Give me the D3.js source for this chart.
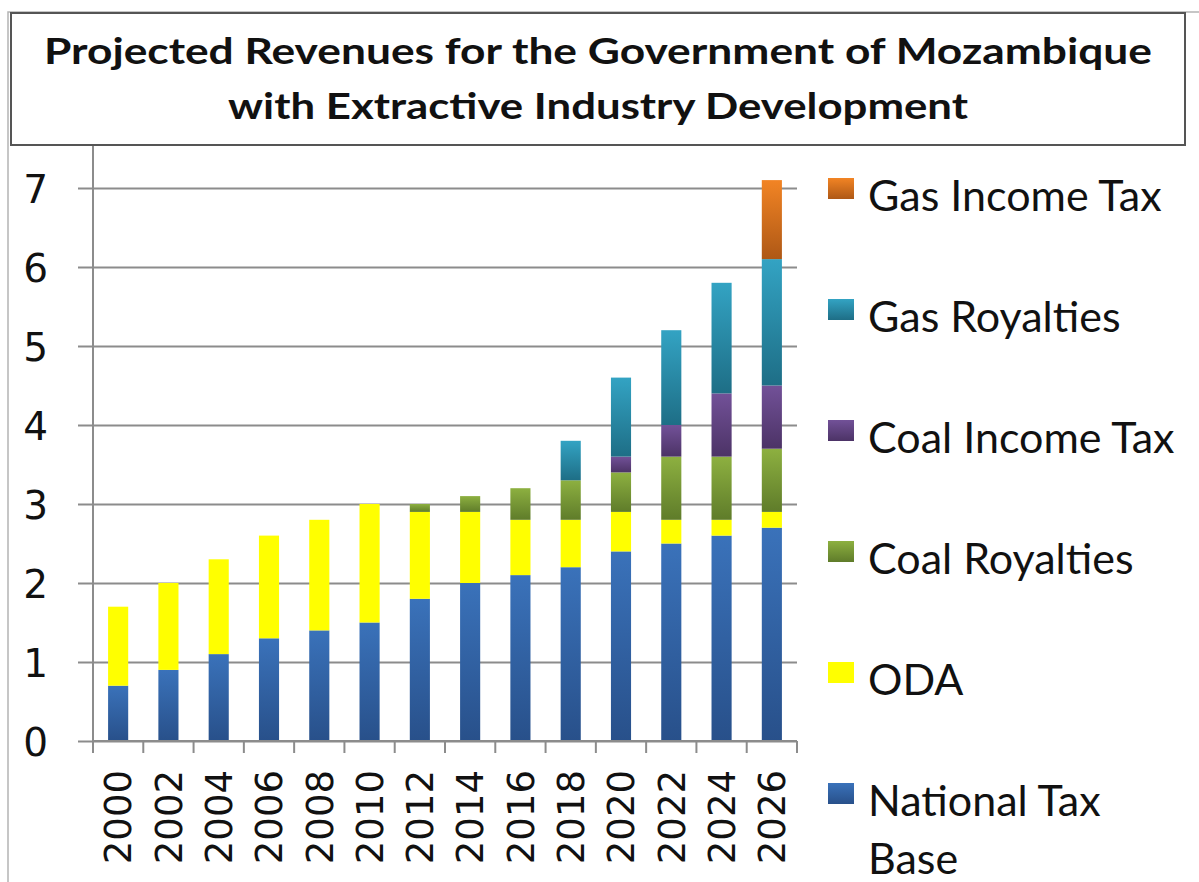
<!DOCTYPE html>
<html>
<head>
<meta charset="utf-8">
<script src="https://cdn.jsdelivr.net/npm/d3@7"></script>
<style>
  body { margin: 0; background: #fff; }
  svg { display: block; }
</style>
</head>
<body>
<script>
// Chart values
var years = ["2000", "2002", "2004", "2006", "2008", "2010", "2012", "2014", "2016", "2018", "2020", "2022", "2024", "2026"];
var nationalTaxBase = [0.7, 0.9, 1.1, 1.3, 1.4, 1.5, 1.8, 2.0, 2.1, 2.2, 2.4, 2.5, 2.6, 2.7];
var oda             = [1.0, 1.1, 1.2, 1.3, 1.4, 1.5, 1.1, 0.9, 0.7, 0.6, 0.5, 0.3, 0.2, 0.2];
var coalRoyalties   = [0, 0, 0, 0, 0, 0, 0.1, 0.2, 0.4, 0.5, 0.5, 0.8, 0.8, 0.8];
var coalIncomeTax   = [0, 0, 0, 0, 0, 0, 0, 0, 0, 0, 0.2, 0.4, 0.8, 0.8];
var gasRoyalties    = [0, 0, 0, 0, 0, 0, 0, 0, 0, 0.5, 1.0, 1.2, 1.4, 1.6];
var gasIncomeTax    = [0, 0, 0, 0, 0, 0, 0, 0, 0, 0, 0, 0, 0, 1.0];
var yTicks = [0, 1, 2, 3, 4, 5, 6, 7];
var titleLines = ["Projected Revenues for the Government of Mozambique", "with Extractive Industry Development"];

// series bottom to top
var seriesNames = ["National Tax Base", "ODA", "Coal Royalties", "Coal Income Tax", "Gas Royalties", "Gas Income Tax"];
var seriesValues = [nationalTaxBase, oda, coalRoyalties, coalIncomeTax, gasRoyalties, gasIncomeTax];
// [top colour, bottom colour] of each bar gradient
var seriesColors = [
  ["#3a72ba", "#28508a"],
  ["#ffff00", "#ffff00"],
  ["#8db040", "#5f7c2a"],
  ["#725198", "#4c3366"],
  ["#33a3c3", "#1e6e86"],
  ["#f28424", "#ae5816"]
];

var width = 1199, height = 882;
// plot edges (note: "top" is taken by window.top, so use plot* names)
var plotLeft = 93, plotRight = 797, plotTop = 188, plotBottom = 741;

var svg = d3.select("body").append("svg")
  .attr("width", width)
  .attr("height", height);

// gradients for bars and legend swatches
var defs = svg.append("defs");
seriesColors.forEach(function(c, i) {
  var g = defs.append("linearGradient")
    .attr("id", "grad" + i)
    .attr("x1", 0).attr("y1", 0).attr("x2", 0).attr("y2", 1);
  g.append("stop").attr("offset", "0%").attr("stop-color", c[0]);
  g.append("stop").attr("offset", "100%").attr("stop-color", c[1]);
});

// outer chart frame
svg.append("rect")
  .attr("x", 8).attr("y", 12)
  .attr("width", 1300).attr("height", 1000)
  .attr("fill", "none")
  .attr("stroke", "#b4b4b4")
  .attr("stroke-width", 1.5);

// title box
svg.append("rect")
  .attr("x", 11).attr("y", 13)
  .attr("width", 1174).attr("height", 132)
  .attr("fill", "#fff")
  .attr("stroke", "#555")
  .attr("stroke-width", 2);

svg.selectAll(".title")
  .data(titleLines)
  .enter()
  .append("text")
  .attr("class", "title")
  .attr("x", 598)
  .attr("y", (d, i) => 64 + i * 55)
  .attr("text-anchor", "middle")
  .attr("textLength", (d, i) => i === 0 ? 1108 : 740)
  .attr("lengthAdjust", "spacingAndGlyphs")
  .style("font-family", "Lato, 'Open Sans', sans-serif")
  .style("font-weight", "bold")
  .style("font-size", "36px")
  .style("fill", "#111")
  .text(d => d);

// scales
var x = d3.scaleBand()
  .domain(years)
  .range([plotLeft, plotRight])
  .paddingInner(0.6)
  .paddingOuter(0.3);

var y = d3.scaleLinear()
  .domain([0, 7])
  .range([plotBottom, plotTop]);

// gridlines with outward ticks
svg.append("g")
  .attr("transform", "translate(" + plotLeft + ",0)")
  .call(d3.axisLeft(y).tickValues(yTicks).tickSize(15).tickPadding(30).tickFormat(d3.format("d")))
  .call(g => g.select(".domain").remove())
  .call(g => g.selectAll(".tick line")
    .attr("x2", plotRight - plotLeft)
    .attr("x1", -15)
    .attr("stroke", "#8c8c8c")
    .attr("stroke-width", 2))
  .call(g => g.selectAll(".tick text")
    .attr("dy", "0.38em")
    .style("font-family", "'DejaVu Sans', Verdana, sans-serif")
    .style("font-size", "39px")
    .style("fill", "#111"));

// y axis line
svg.append("line")
  .attr("x1", plotLeft).attr("x2", plotLeft)
  .attr("y1", 146).attr("y2", plotBottom + 12)
  .attr("stroke", "#8c8c8c")
  .attr("stroke-width", 2);

// stacked bars
var table = years.map(function(yr, i) {
  var row = { year: yr };
  seriesNames.forEach(function(s, k) { row[s] = seriesValues[k][i]; });
  return row;
});
var stacked = d3.stack().keys(seriesNames)(table);

svg.selectAll(".series")
  .data(stacked)
  .enter()
  .append("g")
  .attr("class", "series")
  .attr("fill", (d, i) => "url(#grad" + i + ")")
  .selectAll("rect")
  .data(d => d.filter(p => p[1] - p[0] > 0))
  .enter()
  .append("rect")
  .attr("x", d => x(d.data.year))
  .attr("width", x.bandwidth())
  .attr("y", d => y(d[1]))
  .attr("height", d => y(d[0]) - y(d[1]));

// x axis line and category boundary ticks
svg.append("line")
  .attr("x1", plotLeft).attr("x2", plotRight)
  .attr("y1", plotBottom).attr("y2", plotBottom)
  .attr("stroke", "#8c8c8c")
  .attr("stroke-width", 2);

var edges = years.map(yr => x(yr) - (x.step() - x.bandwidth()) / 2).concat([plotRight]);
svg.selectAll(".xtick")
  .data(edges)
  .enter()
  .append("line")
  .attr("class", "xtick")
  .attr("x1", d => d).attr("x2", d => d)
  .attr("y1", plotBottom).attr("y2", plotBottom + 12)
  .attr("stroke", "#8c8c8c")
  .attr("stroke-width", 2);

svg.selectAll(".xlabel")
  .data(years)
  .enter()
  .append("text")
  .attr("class", "xlabel")
  .attr("transform", d => "translate(" + (x(d) + x.bandwidth() / 2) + "," + 770 + ") rotate(-90)")
  .attr("dy", "0.36em")
  .attr("text-anchor", "end")
  .style("font-family", "'DejaVu Sans', Verdana, sans-serif")
  .style("font-size", "37px")
  .style("fill", "#111")
  .text(d => d);

// legend, top entry is the last series
var legend = svg.selectAll(".legend")
  .data(seriesNames.slice().reverse())
  .enter()
  .append("g")
  .attr("class", "legend")
  .attr("transform", (d, i) => "translate(828," + (211 + i * 121) + ")");

legend.append("rect")
  .attr("x", 0).attr("y", -33)
  .attr("width", 26).attr("height", 21)
  .attr("fill", d => "url(#grad" + seriesNames.indexOf(d) + ")");

legend.append("text")
  .attr("x", 40)
  .style("font-family", "Lato, 'Open Sans', sans-serif")
  .style("font-size", "43px")
  .style("fill", "#111")
  .each(function(d) {
    var t = d3.select(this);
    var parts = d === "National Tax Base" ? ["National Tax", "Base"] : [d];
    parts.forEach(function(p, j) {
      t.append("tspan").attr("x", 40).attr("dy", j === 0 ? 0 : 58).text(p);
    });
  });
</script>
</body>
</html>
